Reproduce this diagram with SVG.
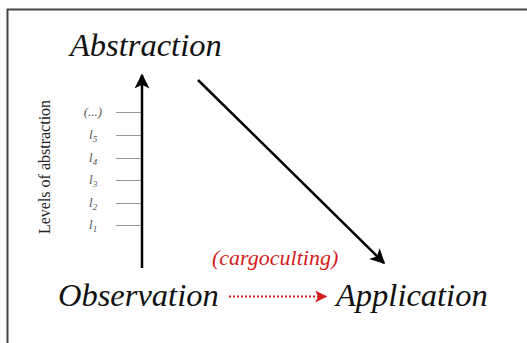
<svg xmlns="http://www.w3.org/2000/svg" width="527" height="343" viewBox="0 0 527 343">
<defs>
<style>
.big{font-family:"Liberation Serif",serif;font-style:italic;font-size:32.5px;fill:#111}
.lvl{font-family:"Liberation Serif",serif;font-style:italic;font-size:13px;fill:#555}
.sub{font-size:9px}
.tick{stroke:#999;stroke-width:1}
.ax{stroke:#000;stroke-width:2.5;fill:none}
</style>
<marker id="ah" viewBox="0 0 10 10" refX="9" refY="5" markerWidth="6" markerHeight="6" markerUnits="strokeWidth" orient="auto">
<path d="M0,0 L10,5 L0,10 L2.5,5 Z" fill="#000"/>
</marker>
<marker id="ahr" viewBox="0 0 10 10" refX="9" refY="5" markerWidth="8" markerHeight="6" markerUnits="strokeWidth" orient="auto">
<path d="M0,0 L10,5 L0,10 L2.5,5 Z" fill="#d41c1c"/>
</marker>
</defs>
<rect width="527" height="343" fill="#fff"/>
<path d="M7.5,350 V9.5 H540" fill="none" stroke="#444" stroke-width="2"/>
<g id="abstraction"><text class="big" x="70" y="56">Abstraction</text></g>
<g id="observation"><text class="big" x="58" y="306">Observation</text></g>
<g id="application"><text class="big" x="336" y="306">Application</text></g>
<g id="levels">
<text x="50" y="167" transform="rotate(-90 50 167)" text-anchor="middle" font-family="Liberation Serif,serif" font-size="16" fill="#222">Levels of abstraction</text>
<line class="tick" x1="116" y1="112.5" x2="142" y2="112.5"/>
<line class="tick" x1="116" y1="135.5" x2="142" y2="135.5"/>
<line class="tick" x1="116" y1="158.5" x2="142" y2="158.5"/>
<line class="tick" x1="116" y1="180.5" x2="142" y2="180.5"/>
<line class="tick" x1="116" y1="203.5" x2="142" y2="203.5"/>
<line class="tick" x1="116" y1="225.5" x2="142" y2="225.5"/>
<text class="lvl" x="93" y="116" text-anchor="middle">(...)</text>
<text class="lvl" x="89" y="139">l<tspan class="sub" dy="3">5</tspan></text>
<text class="lvl" x="89" y="162">l<tspan class="sub" dy="3">4</tspan></text>
<text class="lvl" x="89" y="184">l<tspan class="sub" dy="3">3</tspan></text>
<text class="lvl" x="89" y="207">l<tspan class="sub" dy="3">2</tspan></text>
<text class="lvl" x="89" y="229">l<tspan class="sub" dy="3">1</tspan></text>
</g>
<g id="cargo-label"><text x="212" y="265" font-family="Liberation Serif,serif" font-style="italic" font-size="22" fill="#d41c1c">(cargoculting)</text></g>
<g id="connectors">
<line class="ax" x1="142" y1="268" x2="142" y2="75" marker-end="url(#ah)"/>
<line class="ax" x1="198" y1="80" x2="384" y2="263" marker-end="url(#ah)"/>
<line x1="229" y1="296.5" x2="326" y2="296.5" stroke="#d41c1c" stroke-width="2" stroke-dasharray="2,2" marker-end="url(#ahr)"/>
</g>
</svg>
